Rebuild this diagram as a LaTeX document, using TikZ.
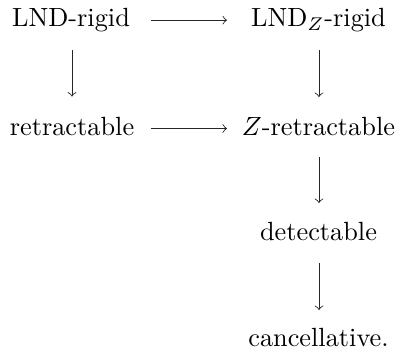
\documentclass[tikz,border=0pt]{standalone}
\usetikzlibrary{calc}
\begin{document}
\begin{tikzpicture}[x=0.38pt,y=-0.38pt,
  lbl/.style={anchor=base,inner sep=0pt,outer sep=0pt},
  arr/.style={->,line width=0.33pt,draw=black!85}]
\useasboundingbox (0,0) rectangle (398,348);
\node[lbl] (a) at (71,26.7) {LND-rigid};
\node[lbl] (b) at (318.5,26.7) {LND$_Z$-rigid};
\node[lbl] (c) at (72,135) {retractable};
\node[lbl] (d) at (318.5,135) {$Z$-retractable};
\node[lbl] (e) at (318.5,240) {detectable};
\node[lbl] (f) at (318.5,346) {cancellative.};
\draw[arr] ([shift={(80,-6.5)}]a.base) -- ([shift={(-91.5,-6.5)}]b.base);
\draw[arr] ([shift={(79,-6.5)}]c.base) -- ([shift={(-91.5,-6.5)}]d.base);
\draw[arr] ([shift={(1,23.3)}]a.base) -- ([shift={(0,-38.5)}]c.base);
\draw[arr] ([shift={(0.5,23.3)}]b.base) -- ([shift={(0.5,-38)}]d.base);
\draw[arr] ([shift={(0.5,22)}]d.base) -- ([shift={(0.5,-37)}]e.base);
\draw[arr] ([shift={(0.5,23)}]e.base) -- ([shift={(0.5,-36)}]f.base);
\end{tikzpicture}
\end{document}
